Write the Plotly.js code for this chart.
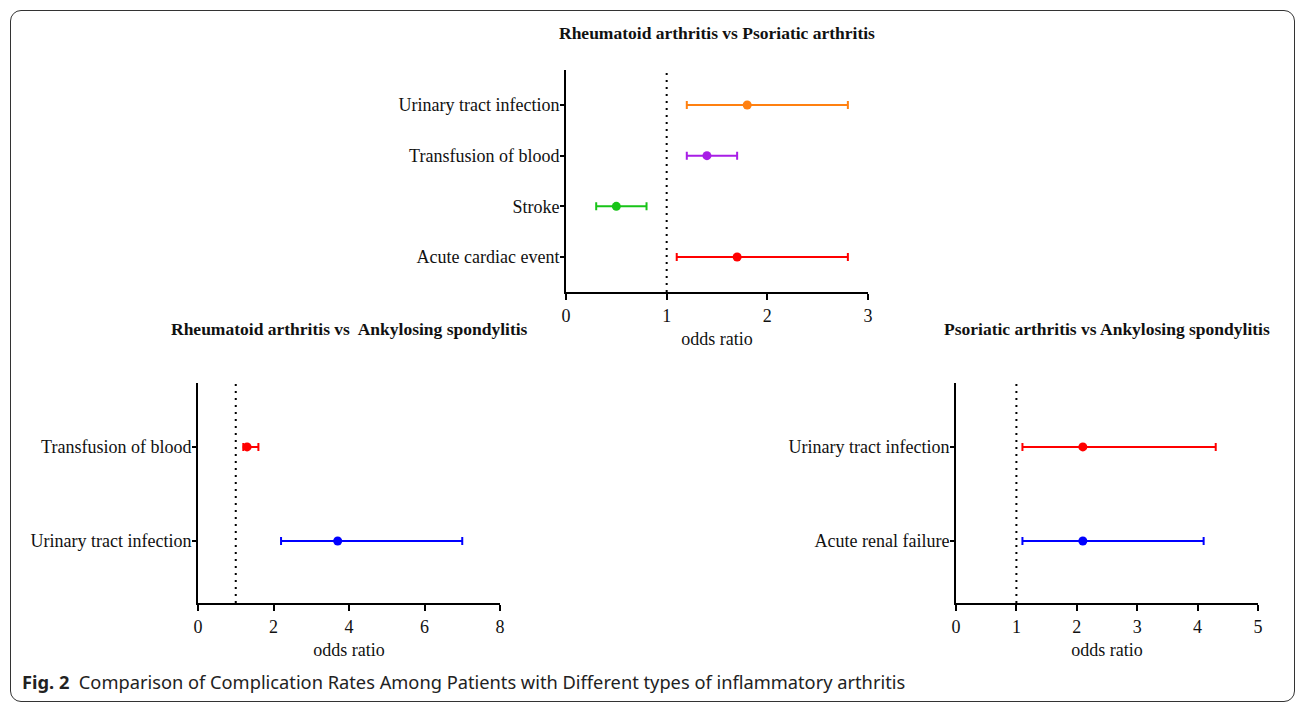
<!DOCTYPE html>
<html>
<head>
<meta charset="utf-8">
<script src="https://cdn.plot.ly/plotly-3.0.1.min.js"></script>
<style>
  html, body { margin: 0; padding: 0; background: #fff; }
  #wrap { position: relative; width: 1296px; height: 703px; overflow: hidden; }
  #chart { position: absolute; left: 0; top: 0; width: 1296px; height: 703px; }
  #frame { position: absolute; left: 10px; top: 10px; width: 1283px; height: 690px;
           border: 1px solid #333; border-radius: 11px; pointer-events: none; }
  #caption { position: absolute; left: 22px; top: 669px; font-family: "Noto Sans", sans-serif;
             font-size: 18.25px; color: #222; white-space: pre; }
</style>
</head>
<body>
<div id="wrap">
  <div id="chart"></div>
  <div id="frame"></div>
  <div id="caption"><b>Fig. 2</b>  Comparison of Complication Rates Among Patients with Different types of inflammatory arthritis</div>
</div>
<script>
// ---- Data ----
// Panel 1: Rheumatoid arthritis vs Psoriatic arthritis (listed bottom to top)
const titleTop = 'Rheumatoid arthritis vs Psoriatic arthritis';
const categoriesTop = ['Acute cardiac event', 'Stroke', 'Transfusion of blood', 'Urinary tract infection'];
const oddsTop = [1.7, 0.5, 1.4, 1.8];
const lowerTop = [1.1, 0.3, 1.2, 1.2];
const upperTop = [2.8, 0.8, 1.7, 2.8];
const colorsTop = ['#ff0000', '#18c418', '#a81ee6', '#ff8010'];

// Panel 2: Rheumatoid arthritis vs Ankylosing spondylitis
const titleLeft = 'Rheumatoid arthritis vs  Ankylosing spondylitis';
const categoriesLeft = ['Urinary tract infection', 'Transfusion of blood'];
const oddsLeft = [3.7, 1.3];
const lowerLeft = [2.2, 1.2];
const upperLeft = [7.0, 1.6];
const colorsLeft = ['#0000ff', '#ff0000'];

// Panel 3: Psoriatic arthritis vs Ankylosing spondylitis
const titleRight = 'Psoriatic arthritis vs Ankylosing spondylitis';
const categoriesRight = ['Acute renal failure', 'Urinary tract infection'];
const oddsRight = [2.1, 2.1];
const lowerRight = [1.1, 1.1];
const upperRight = [4.1, 4.3];
const colorsRight = ['#0000ff', '#ff0000'];

const xTitle = 'odds ratio';
const referenceOR = 1;

// ---- Build ----
const serif = '"Liberation Serif", "Times New Roman", serif';
const traces = [];
function addPanel(cats, odds, lo, hi, colors, xa, ya) {
  for (let i = 0; i < cats.length; i++) {
    traces.push({
      type: 'scatter', mode: 'markers',
      x: [odds[i]], y: [cats[i]],
      xaxis: xa, yaxis: ya,
      marker: { color: colors[i], size: 9 },
      error_x: { type: 'data', symmetric: false,
                 array: [hi[i] - odds[i]], arrayminus: [odds[i] - lo[i]],
                 color: colors[i], thickness: 2, width: 4 },
      showlegend: false, hoverinfo: 'x+y'
    });
  }
}
addPanel(categoriesTop, oddsTop, lowerTop, upperTop, colorsTop, 'x', 'y');
addPanel(categoriesLeft, oddsLeft, lowerLeft, upperLeft, colorsLeft, 'x2', 'y2');
addPanel(categoriesRight, oddsRight, lowerRight, upperRight, colorsRight, 'x3', 'y3');

function xaxisDef(domain, range, dtick, anchor) {
  return {
    domain: domain, range: range, dtick: dtick, tick0: 0, anchor: anchor,
    showgrid: false, zeroline: false, showline: true, linecolor: '#000', linewidth: 2,
    ticks: 'outside', ticklen: 6, tickwidth: 2, tickcolor: '#000',
    tickfont: { family: serif, size: 18, color: '#111' },
    title: { text: xTitle, font: { family: serif, size: 18, color: '#111' }, standoff: 8 },
    fixedrange: true
  };
}
function yaxisDef(domain, cats, range, anchor) {
  return {
    domain: domain, type: 'category', categoryorder: 'array', categoryarray: cats,
    range: range, anchor: anchor,
    showgrid: false, zeroline: false, showline: true, linecolor: '#000', linewidth: 2,
    ticks: 'outside', ticklen: 4, tickwidth: 2, tickcolor: '#000',
    ticklabelstandoff: -3,
    tickfont: { family: serif, size: 18, color: '#111' },
    fixedrange: true
  };
}
const W = 1296, H = 703;
const fx = (a, b) => [a / W, b / W];
const fy = (top, bottom) => [1 - bottom / H, 1 - top / H];

const layout = {
  width: W, height: H,
  margin: { l: 0, r: 0, t: 0, b: 0 },
  paper_bgcolor: '#fff', plot_bgcolor: 'rgba(0,0,0,0)',
  showlegend: false,
  xaxis: xaxisDef(fx(566, 868), [0, 3], 1, 'y'),
  yaxis: yaxisDef(fy(70, 292), categoriesTop, [-0.69, 3.69], 'x'),
  xaxis2: xaxisDef(fx(198, 500), [0, 8], 2, 'y2'),
  yaxis2: yaxisDef(fy(383, 603), categoriesLeft, [-0.66, 1.68], 'x2'),
  xaxis3: xaxisDef(fx(956, 1258), [0, 5], 1, 'y3'),
  yaxis3: yaxisDef(fy(383, 603), categoriesRight, [-0.66, 1.68], 'x3'),
  shapes: [['x', 'y'], ['x2', 'y2'], ['x3', 'y3']].map(([xa, ya]) => ({
    type: 'line', xref: xa, yref: ya + ' domain',
    x0: referenceOR, x1: referenceOR, y0: 0, y1: 1,
    line: { color: '#000', width: 2, dash: '2px,5px' }
  })),
  annotations: [
    [titleTop, 'x', 1 - 33 / H],
    [titleLeft, 'x2', 1 - 329 / H],
    [titleRight, 'x3', 1 - 329 / H]
  ].map(([t, xa, yy]) => ({
    text: '<b>' + t + '</b>', xref: xa + ' domain', x: 0.5, xanchor: 'center',
    yref: 'paper', y: yy, yanchor: 'middle', showarrow: false,
    font: { family: serif, size: 17.5, color: '#111' }
  }))
};

Plotly.newPlot('chart', traces, layout, { staticPlot: true, displayModeBar: false });
</script>
</body>
</html>
